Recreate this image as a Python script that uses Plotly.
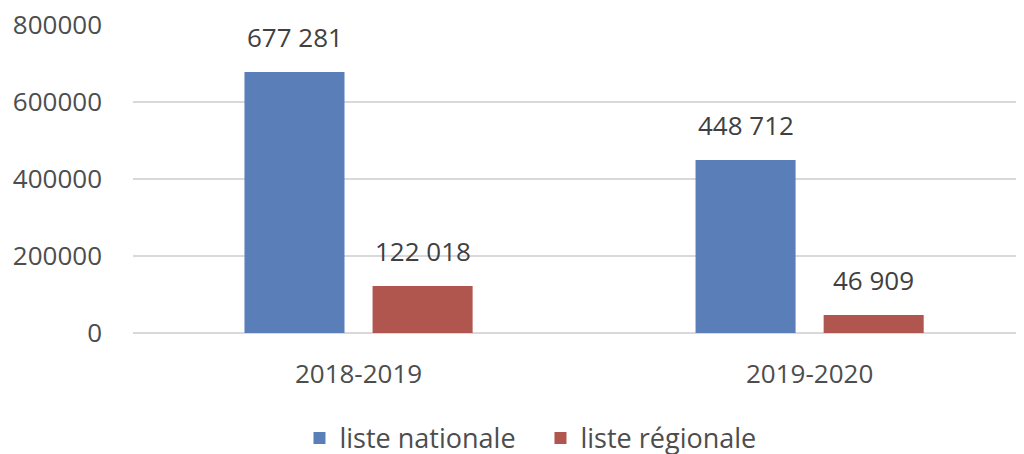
import plotly.graph_objects as go

categories = ["2018-2019", "2019-2020"]
series_names = ["liste nationale", "liste régionale"]
nationale = [677281, 448712]
regionale = [122018, 46909]
label_nat = ["677 281", "448 712"]
label_reg = ["122 018", "46 909"]
y_ticks = [0, 200000, 400000, 600000, 800000]

colors = ["#5a7fb8", "#b1554f"]
font_family = "Open Sans"
text_color = "#404040"
tick_color = "#4d4d4d"
fsize = 26

fig = go.Figure()
fig.add_trace(go.Bar(x=categories, y=nationale, name=series_names[0],
                     marker=dict(color=colors[0], line=dict(width=0))))
fig.add_trace(go.Bar(x=categories, y=regionale, name=series_names[1],
                     marker=dict(color=colors[1], line=dict(width=0))))

for i, c in enumerate(categories):
    fig.add_annotation(x=c, y=nationale[i], text=label_nat[i], xref="x", yref="y",
                       xshift=-64, yshift=15, yanchor="bottom", showarrow=False,
                       font=dict(family=font_family, size=fsize, color=text_color))
    fig.add_annotation(x=c, y=regionale[i], text=label_reg[i], xref="x", yref="y",
                       xshift=64, yshift=15, yanchor="bottom", showarrow=False,
                       font=dict(family=font_family, size=fsize, color=text_color))

fig.update_layout(
    width=1024, height=454,
    margin=dict(l=125, r=0, t=16, b=129, autoexpand=False),
    paper_bgcolor="white", plot_bgcolor="white",
    barmode="group", bargap=0.432, bargroupgap=0.219,
    font=dict(family=font_family, size=fsize, color=tick_color),
    showlegend=True,
    legend=dict(orientation="h", xref="container", x=0.52, xanchor="center",
                yref="container", y=0.052, yanchor="middle",
                font=dict(family=font_family, size=27, color=tick_color),
                itemwidth=30, entrywidth=196, entrywidthmode="pixels",
                traceorder="normal"),
    xaxis=dict(range=[-0.5, 1.493], showgrid=False, showline=False, zeroline=False,
               ticks="", ticklabelstandoff=23, automargin=False,
               tickfont=dict(family=font_family, size=fsize, color=tick_color)),
    yaxis=dict(range=[0, 802000], tickvals=y_ticks, tickformat="d",
               showgrid=True, gridcolor="#d9d9d9", gridwidth=2,
               zeroline=True, zerolinecolor="#d9d9d9", zerolinewidth=2,
               showline=False, ticks="", ticklabelstandoff=30, automargin=False,
               ticklabeloverflow="allow",
               tickfont=dict(family=font_family, size=fsize, color=tick_color)),
)

fig.write_html("out.html")
